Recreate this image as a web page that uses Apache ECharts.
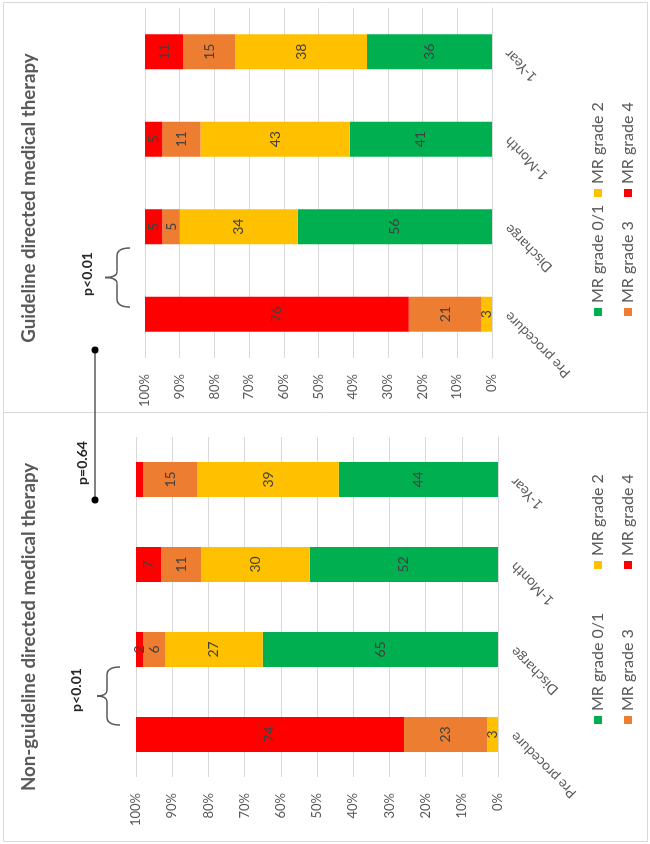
<!DOCTYPE html>
<html>
<head>
<meta charset="utf-8">
<title>MR grade by therapy</title>
<script src="https://cdn.jsdelivr.net/npm/echarts@6/dist/echarts.min.js"></script>
<style>
  html, body { margin: 0; padding: 0; background: #fff; overflow: hidden; }
  body { width: 650px; height: 844px; position: relative; }
  /* the figure is drawn landscape and turned a quarter turn to the left */
  #chart {
    position: absolute; left: 0; top: 0;
    width: 844px; height: 650px;
    transform-origin: 0 0;
    transform: translate(0, 844px) rotate(-90deg);
  }
</style>
</head>
<body>
<div id="chart"></div>
<script>
const categories = ['Pre procedure', 'Discharge', '1-Month', '1-Year'];
const gradeNames = ['MR grade 0/1', 'MR grade 2', 'MR grade 3', 'MR grade 4'];
const gradeColors = ['#00B050', '#FFC000', '#ED7D31', '#FF0000'];
const valueTicks = [0, 10, 20, 30, 40, 50, 60, 70, 80, 90, 100];

// Non-guideline directed medical therapy (%)
const ngGrade01 = [0, 65, 52, 44];
const ngGrade2 = [3, 27, 30, 39];
const ngGrade3 = [23, 6, 11, 15];
const ngGrade4 = [74, 2, 7, 2];
// Guideline directed medical therapy (%)
const gGrade01 = [0, 56, 41, 36];
const gGrade2 = [3, 34, 43, 38];
const gGrade3 = [21, 5, 11, 15];
const gGrade4 = [76, 5, 5, 11];

// segments that carry no number in the figure
const ngGrade4Unlabeled = ['1-Year'];

const chart = echarts.init(document.getElementById('chart'));
const FONT = 'Lato, "Open Sans", sans-serif';
const GRAY = '#595959';

function makeSeries(name, values, gridIdx, unlabeled) {
  const i = gradeNames.indexOf(name);
  return {
    name: name,
    type: 'bar',
    stack: 'grid' + gridIdx,
    xAxisIndex: gridIdx,
    yAxisIndex: gridIdx,
    barWidth: 35,
    itemStyle: { color: gradeColors[i] },
    label: {
      show: true,
      position: 'inside',
      color: '#404040',
      fontSize: 14,
      fontFamily: FONT,
      formatter: p => (p.value === 0 || (unlabeled || []).includes(p.name)) ? '' : String(p.value)
    },
    data: values
  };
}

function makeLegend(name, left, top) {
  return {
    data: [name],
    left: left,
    top: top,
    padding: 0,
    icon: 'rect',
    itemWidth: 8,
    itemHeight: 8,
    itemGap: 5,
    textStyle: { color: GRAY, fontSize: 16, fontFamily: FONT }
  };
}

function makeXAxis(gridIdx) {
  return {
    type: 'category',
    gridIndex: gridIdx,
    data: categories,
    axisLine: { lineStyle: { color: '#d9d9d9' } },
    axisTick: { show: false },
    axisLabel: { rotate: 45, color: GRAY, fontSize: 14, fontFamily: FONT, margin: 15 }
  };
}

function makeYAxis(gridIdx) {
  return {
    type: 'value',
    gridIndex: gridIdx,
    min: valueTicks[0],
    max: valueTicks[valueTicks.length - 1],
    interval: valueTicks[1] - valueTicks[0],
    axisLine: { show: false },
    axisTick: { show: false },
    splitLine: { lineStyle: { color: '#d9d9d9' } },
    axisLabel: { formatter: '{value}%', color: GRAY, fontSize: 13, fontFamily: FONT, margin: 16 }
  };
}

// curly brace opening towards the bars, tip pointing at the p value
function brace(x0, x1, yTip, yBody, yEnd) {
  const xm = (x0 + x1) / 2;
  const st = { stroke: GRAY, lineWidth: 1.5, fill: null };
  const curve = (a, b, c, d, e, f) => ({ type: 'bezierCurve', shape: { x1: a, y1: b, cpx1: c, cpy1: d, x2: e, y2: f }, style: st, silent: true });
  const seg = (a, b, c, d) => ({ type: 'line', shape: { x1: a, y1: b, x2: c, y2: d }, style: st, silent: true });
  return [
    curve(x0, yEnd, x0, yBody, x0 + 8, yBody),
    seg(x0 + 8, yBody, xm - 6, yBody),
    curve(xm - 6, yBody, xm, yBody, xm, yTip),
    curve(xm, yTip, xm, yBody, xm + 6, yBody),
    seg(xm + 6, yBody, x1 - 8, yBody),
    curve(x1 - 8, yBody, x1, yBody, x1, yEnd)
  ];
}

const pText = { fill: '#262626', fontSize: 14, fontWeight: 'bold', fontFamily: FONT, align: 'center', verticalAlign: 'middle' };

chart.setOption({
  animation: false,
  title: [
    { text: 'Non-guideline directed medical therapy', left: 217, top: 19, textAlign: 'center', padding: 0,
      textStyle: { color: GRAY, fontSize: 18.7, fontWeight: 'bold', fontFamily: FONT } },
    { text: 'Guideline directed medical therapy', left: 646, top: 19, textAlign: 'center', padding: 0,
      textStyle: { color: GRAY, fontSize: 18.7, fontWeight: 'bold', fontFamily: FONT } }
  ],
  legend: [
    makeLegend('MR grade 0/1', 120, 590),
    makeLegend('MR grade 2', 275, 590),
    makeLegend('MR grade 3', 120, 620),
    makeLegend('MR grade 4', 275, 620),
    makeLegend('MR grade 0/1', 528, 590),
    makeLegend('MR grade 2', 647, 590),
    makeLegend('MR grade 3', 528, 620),
    makeLegend('MR grade 4', 647, 620)
  ],
  grid: [
    { left: 67, width: 340, top: 136, height: 362 },
    { left: 486, width: 350, top: 145, height: 347 }
  ],
  xAxis: [makeXAxis(0), makeXAxis(1)],
  yAxis: [makeYAxis(0), makeYAxis(1)],
  series: [
    makeSeries('MR grade 0/1', ngGrade01, 0),
    makeSeries('MR grade 2', ngGrade2, 0),
    makeSeries('MR grade 3', ngGrade3, 0),
    makeSeries('MR grade 4', ngGrade4, 0, ngGrade4Unlabeled),
    makeSeries('MR grade 0/1', gGrade01, 1),
    makeSeries('MR grade 2', gGrade2, 1),
    makeSeries('MR grade 3', gGrade3, 1),
    makeSeries('MR grade 4', gGrade4, 1)
  ],
  graphic: [
    // panel frame and divider
    { type: 'rect', shape: { x: 2.5, y: 3.5, width: 839, height: 644 }, style: { fill: null, stroke: '#d9d9d9', lineWidth: 1 }, silent: true },
    { type: 'line', shape: { x1: 431.5, y1: 3.5, x2: 431.5, y2: 647.5 }, style: { stroke: '#d9d9d9', lineWidth: 1 }, silent: true },
    // p<0.01 for each panel
    { type: 'text', x: 154, y: 76, style: Object.assign({ text: 'p<0.01' }, pText) },
    ...brace(119, 177, 97, 107, 120),
    { type: 'text', x: 570, y: 87, style: Object.assign({ text: 'p<0.01' }, pText) },
    ...brace(537, 596, 105, 117, 130),
    // 1-year comparison between panels
    { type: 'line', shape: { x1: 344, y1: 95, x2: 494, y2: 95 }, style: { stroke: GRAY, lineWidth: 1.5 } },
    { type: 'circle', shape: { cx: 344, cy: 95, r: 3.5 }, style: { fill: '#000' } },
    { type: 'circle', shape: { cx: 494, cy: 95, r: 3.5 }, style: { fill: '#000' } },
    { type: 'text', x: 381, y: 82, style: Object.assign({ text: 'p=0.64' }, pText) }
  ]
});
</script>
</body>
</html>
